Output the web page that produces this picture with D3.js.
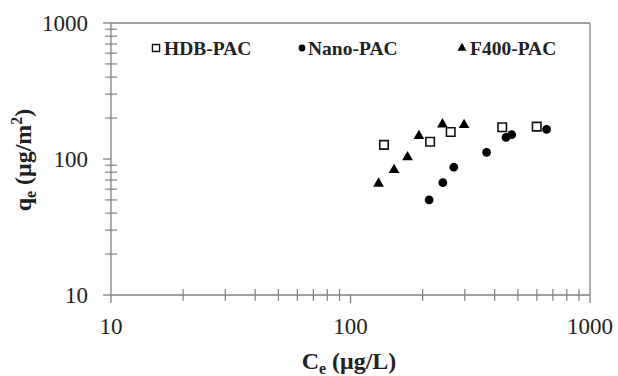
<!DOCTYPE html>
<html><head><meta charset="utf-8">
<script src="https://cdn.jsdelivr.net/npm/d3@7"></script>
<style>body{margin:0;background:#fff}svg{display:block}</style>
</head><body>
<script>
// Data
const hdbCe = [138, 215, 262, 430, 599];
const hdbQe = [127, 134, 158, 171, 173];
const nanoCe = [213, 243, 270, 370, 446, 471, 659];
const nanoQe = [50, 67, 87, 112, 144, 151, 165];
const f400Ce = [131, 152, 173, 193, 242, 298];
const f400Qe = [66, 83, 103, 148, 180, 178];
const xTickLabels = ["10", "100", "1000"];
const yTickLabels = ["10", "100", "1000"];
const seriesNames = ["HDB-PAC", "Nano-PAC", "F400-PAC"];

const W = 618, H = 376;
const svg = d3.select("body").append("svg").attr("width", W).attr("height", H);
const x = d3.scaleLog().domain([10, 1000]).range([111, 590]);
const y = d3.scaleLog().domain([10, 1000]).range([295, 23]);
const axisColor = "#808080";
const font = "'Liberation Serif','Times New Roman',serif";

// frame (top and right)
svg.append("line").attr("x1", x(10)).attr("x2", x(1000)).attr("y1", y(1000)).attr("y2", y(1000))
  .attr("stroke", axisColor).attr("stroke-width", 1.3);
svg.append("line").attr("x1", x(1000)).attr("x2", x(1000)).attr("y1", y(1000)).attr("y2", y(10))
  .attr("stroke", axisColor).attr("stroke-width", 1.3);
// axes lines
svg.append("line").attr("x1", x(10)).attr("x2", x(1000)).attr("y1", y(10)).attr("y2", y(10))
  .attr("stroke", axisColor).attr("stroke-width", 1.3);
svg.append("line").attr("x1", x(10)).attr("x2", x(10)).attr("y1", y(1000)).attr("y2", y(10))
  .attr("stroke", axisColor).attr("stroke-width", 1.3);

const majors = xTickLabels.map(Number);
const minors = [];
[10, 100].forEach(d => { for (let k = 2; k <= 9; k++) minors.push(d * k); });

// x ticks
const gx = svg.append("g");
gx.selectAll("line.maj").data(majors).join("line")
  .attr("x1", d => x(d)).attr("x2", d => x(d)).attr("y1", y(10)).attr("y2", y(10) + 8)
  .attr("stroke", axisColor).attr("stroke-width", 1.3);
gx.selectAll("line.min").data(minors).join("line")
  .attr("x1", d => x(d)).attr("x2", d => x(d)).attr("y1", y(10) - 6).attr("y2", y(10) + 6)
  .attr("stroke", axisColor).attr("stroke-width", 1.2);
gx.selectAll("text").data(xTickLabels).join("text")
  .attr("x", d => x(+d)).attr("y", 334).attr("text-anchor", "middle")
  .attr("font-family", font).attr("font-size", 23).attr("fill", "#222").text(d => d);

// y ticks
const gy = svg.append("g");
gy.selectAll("line.maj").data(majors).join("line")
  .attr("x1", x(10) - 8).attr("x2", x(10)).attr("y1", d => y(d)).attr("y2", d => y(d))
  .attr("stroke", axisColor).attr("stroke-width", 1.3);
gy.selectAll("line.min").data(minors).join("line")
  .attr("x1", x(10) - 6).attr("x2", x(10) + 6).attr("y1", d => y(d)).attr("y2", d => y(d))
  .attr("stroke", axisColor).attr("stroke-width", 1.2);
gy.selectAll("text").data(yTickLabels).join("text")
  .attr("x", 88).attr("y", d => y(+d) + 8).attr("text-anchor", "end")
  .attr("font-family", font).attr("font-size", 23).attr("fill", "#222").text(d => d);

// axis titles
const xt = svg.append("text").attr("x", 349).attr("y", 369).attr("text-anchor", "middle")
  .attr("font-family", font).attr("font-size", 24).attr("font-weight", "bold").attr("fill", "#222");
xt.append("tspan").text("C");
xt.append("tspan").attr("font-size", 16).attr("dy", 5).text("e");
xt.append("tspan").attr("dy", -5).text(" (μg/L)");

const yt = svg.append("text").attr("transform", "translate(31,160) rotate(-90)").attr("text-anchor", "middle")
  .attr("font-family", font).attr("font-size", 24).attr("font-weight", "bold").attr("fill", "#222");
yt.append("tspan").text("q");
yt.append("tspan").attr("font-size", 16).attr("dy", 5).text("e");
yt.append("tspan").attr("dy", -5).text(" (μg/m");
yt.append("tspan").attr("font-size", 16).attr("dy", -9).text("2");
yt.append("tspan").attr("dy", 9).text(")");

// points
const sq = d3.symbol().type(d3.symbolSquare).size(72);
const ci = d3.symbol().type(d3.symbolCircle).size(60);
const tr = d3.symbol().type(d3.symbolTriangle).size(50);

svg.append("g").selectAll("path").data(d3.range(nanoCe.length)).join("path")
  .attr("d", ci).attr("transform", i => `translate(${x(nanoCe[i])},${y(nanoQe[i])})`)
  .attr("fill", "#000");
svg.append("g").selectAll("path").data(d3.range(f400Ce.length)).join("path")
  .attr("d", tr).attr("transform", i => `translate(${x(f400Ce[i])},${y(f400Qe[i])})`)
  .attr("fill", "#000");
svg.append("g").selectAll("path").data(d3.range(hdbCe.length)).join("path")
  .attr("d", sq).attr("transform", i => `translate(${x(hdbCe[i])},${y(hdbQe[i])})`)
  .attr("fill", "#fff").attr("stroke", "#111").attr("stroke-width", 1.6);

// legend
const legX = [156, 302, 462];
const legSym = [d3.symbol().type(d3.symbolSquare).size(50)(), d3.symbol().type(d3.symbolCircle).size(36)(), d3.symbol().type(d3.symbolTriangle).size(36)()];
const leg = svg.append("g");
seriesNames.forEach((name, i) => {
  const p = leg.append("path").attr("d", legSym[i]).attr("transform", `translate(${legX[i]},48)`);
  if (i === 0) p.attr("fill", "#fff").attr("stroke", "#111").attr("stroke-width", 1.4);
  else p.attr("fill", "#000");
  leg.append("text").attr("x", legX[i] + (i === 1 ? 6 : 8)).attr("y", 54.5)
    .attr("font-family", font).attr("font-size", 19.5).attr("font-weight", "bold").attr("fill", "#222").text(name);
});
</script>
</body></html>
